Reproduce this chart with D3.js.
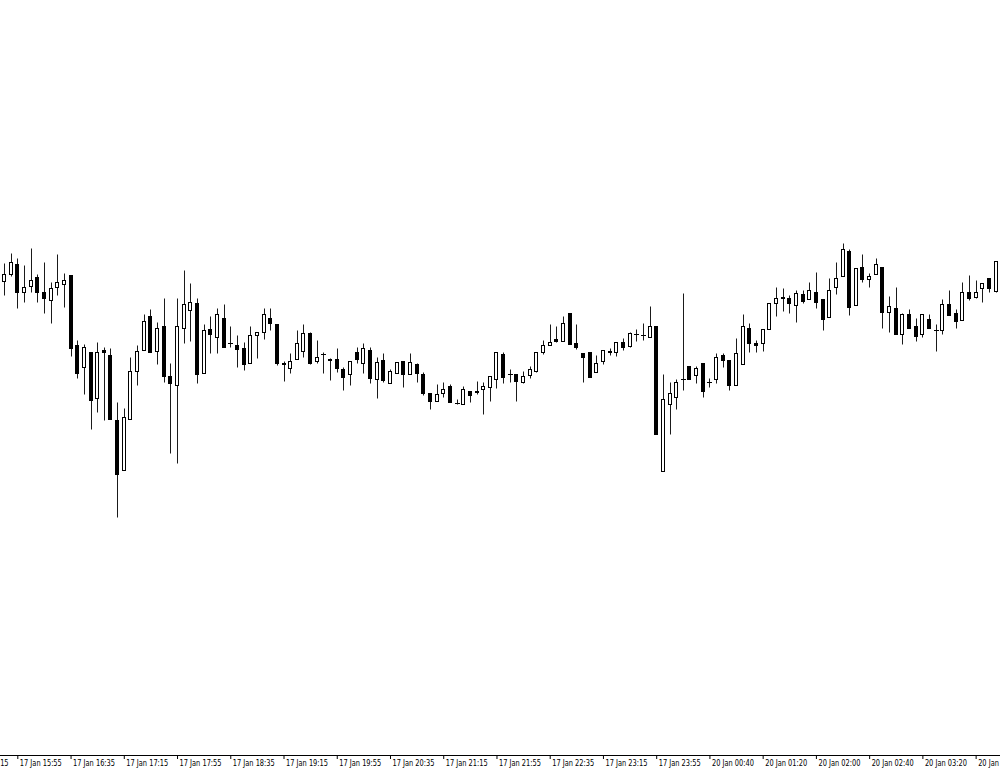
<!DOCTYPE html>
<html>
<head>
<meta charset="utf-8">
<script src="https://cdn.jsdelivr.net/npm/d3@7"></script>
<style>
  body { margin: 0; background: #fff; }
  #chart text { font-family: "DejaVu Sans", Verdana, sans-serif; font-size: 8px; fill: #000; }
</style>
</head>
<body>
<div id="chart"></div>
<script>
// M5 bars, 17 Jan 15:45 -> 20 Jan 04:15
var open = [
  1.35719,1.35726,1.35736,1.35708,1.35714,1.35723,1.35708,1.35700,1.35713,1.35716,
  1.35725,1.35655,1.35633,1.35648,1.35602,1.35650,1.35645,1.35580,1.35530,1.35581,
  1.35629,1.35650,1.35684,1.35649,1.35674,1.35624,1.35615,1.35672,1.35690,1.35697,
  1.35627,1.35671,1.35663,1.35682,1.35657,1.35655,1.35652,1.35637,1.35665,1.35668,
  1.35682,1.35676,1.35637,1.35632,1.35641,1.35649,1.35667,1.35639,1.35646,1.35641,
  1.35641,1.35631,1.35626,1.35648,1.35637,1.35650,1.35621,1.35640,1.35617,1.35627,
  1.35639,1.35626,1.35636,1.35626,1.35607,1.35599,1.35607,1.35614,1.35597,1.35596,
  1.35609,1.35608,1.35611,1.35613,1.35621,1.35646,1.35626,1.35626,1.35618,1.35625,
  1.35629,1.35648,1.35655,1.35661,1.35659,1.35687,1.35657,1.35647,1.35648,1.35628,
  1.35639,1.35648,1.35648,1.35658,1.35654,1.35666,1.35665,1.35663,1.35674,1.35529,
  1.35596,1.35603,1.35621,1.35634,1.35625,1.35637,1.35618,1.35621,1.35645,1.35640,
  1.35615,1.35636,1.35672,1.35657,1.35657,1.35671,1.35697,1.35702,1.35702,1.35695,
  1.35706,1.35701,1.35708,1.35701,1.35683,1.35713,1.35724,1.35749,1.35695,1.35733,
  1.35721,1.35726,1.35733,1.35688,1.35692,1.35666,1.35686,1.35674,1.35666,1.35681,
  1.35670,1.35670,1.35696,1.35687,1.35680,1.35708,1.35703,1.35712,1.35722,1.35709
];
var high = [
  1.35737,1.35747,1.35742,1.35735,1.35752,1.35726,1.35738,1.35718,1.35746,1.35727,
  1.35725,1.35660,1.35656,1.35648,1.35658,1.35653,1.35652,1.35598,1.35592,1.35643,
  1.35655,1.35686,1.35691,1.35678,1.35702,1.35637,1.35702,1.35730,1.35717,1.35702,
  1.35676,1.35684,1.35692,1.35696,1.35674,1.35665,1.35658,1.35674,1.35668,1.35692,
  1.35692,1.35676,1.35639,1.35647,1.35670,1.35676,1.35668,1.35660,1.35648,1.35642,
  1.35652,1.35633,1.35639,1.35653,1.35657,1.35653,1.35643,1.35647,1.35631,1.35638,
  1.35639,1.35647,1.35637,1.35628,1.35607,1.35616,1.35618,1.35616,1.35601,1.35614,
  1.35609,1.35619,1.35618,1.35624,1.35648,1.35648,1.35631,1.35626,1.35629,1.35634,
  1.35648,1.35660,1.35676,1.35674,1.35684,1.35687,1.35676,1.35647,1.35648,1.35645,
  1.35650,1.35652,1.35658,1.35662,1.35668,1.35671,1.35677,1.35694,1.35674,1.35626,
  1.35618,1.35621,1.35707,1.35634,1.35634,1.35637,1.35622,1.35647,1.35647,1.35640,
  1.35662,1.35686,1.35677,1.35660,1.35671,1.35697,1.35713,1.35712,1.35705,1.35710,
  1.35710,1.35718,1.35728,1.35701,1.35722,1.35738,1.35757,1.35751,1.35732,1.35746,
  1.35727,1.35742,1.35733,1.35704,1.35713,1.35687,1.35691,1.35682,1.35686,1.35686,
  1.35676,1.35701,1.35710,1.35691,1.35718,1.35725,1.35720,1.35717,1.35722,1.35739
];
var low = [
  1.35705,1.35724,1.35692,1.35698,1.35708,1.35698,1.35687,1.35677,1.35705,1.35693,
  1.35644,1.35622,1.35606,1.35571,1.35588,1.35580,1.35581,1.35483,1.35530,1.35581,
  1.35615,1.35650,1.35648,1.35636,1.35618,1.35547,1.35537,1.35657,1.35659,1.35617,
  1.35627,1.35647,1.35647,1.35653,1.35653,1.35633,1.35630,1.35637,1.35642,1.35661,
  1.35670,1.35635,1.35619,1.35627,1.35641,1.35643,1.35636,1.35637,1.35627,1.35620,
  1.35628,1.35610,1.35615,1.35637,1.35627,1.35617,1.35602,1.35618,1.35617,1.35627,
  1.35613,1.35626,1.35618,1.35605,1.35591,1.35599,1.35603,1.35598,1.35596,1.35596,
  1.35598,1.35606,1.35586,1.35599,1.35612,1.35617,1.35618,1.35599,1.35617,1.35622,
  1.35628,1.35646,1.35655,1.35658,1.35659,1.35656,1.35651,1.35618,1.35623,1.35628,
  1.35636,1.35645,1.35644,1.35650,1.35653,1.35659,1.35660,1.35663,1.35566,1.35529,
  1.35566,1.35591,1.35610,1.35621,1.35617,1.35603,1.35613,1.35617,1.35633,1.35610,
  1.35615,1.35636,1.35648,1.35648,1.35649,1.35671,1.35684,1.35689,1.35687,1.35678,
  1.35697,1.35701,1.35692,1.35670,1.35683,1.35706,1.35724,1.35685,1.35695,1.35718,
  1.35713,1.35726,1.35672,1.35668,1.35666,1.35656,1.35672,1.35659,1.35663,1.35672,
  1.35649,1.35666,1.35685,1.35672,1.35680,1.35700,1.35702,1.35698,1.35708,1.35708
];
var close = [
  1.35726,1.35738,1.35708,1.35713,1.35720,1.35708,1.35702,1.35712,1.35718,1.35720,
  1.35652,1.35627,1.35653,1.35600,1.35648,1.35648,1.35581,1.35526,1.35583,1.35629,
  1.35649,1.35679,1.35648,1.35672,1.35624,1.35617,1.35674,1.35696,1.35698,1.35626,
  1.35670,1.35666,1.35686,1.35653,1.35657,1.35651,1.35636,1.35665,1.35668,1.35686,
  1.35677,1.35637,1.35636,1.35639,1.35657,1.35667,1.35637,1.35643,1.35646,1.35640,
  1.35632,1.35623,1.35639,1.35641,1.35652,1.35622,1.35638,1.35620,1.35629,1.35638,
  1.35626,1.35638,1.35627,1.35607,1.35599,1.35606,1.35611,1.35598,1.35597,1.35611,
  1.35605,1.35609,1.35614,1.35624,1.35648,1.35623,1.35626,1.35619,1.35624,1.35631,
  1.35648,1.35655,1.35658,1.35659,1.35677,1.35656,1.35653,1.35643,1.35623,1.35637,
  1.35650,1.35649,1.35658,1.35653,1.35667,1.35666,1.35665,1.35674,1.35566,1.35601,
  1.35607,1.35618,1.35621,1.35621,1.35632,1.35609,1.35618,1.35643,1.35640,1.35615,
  1.35647,1.35674,1.35657,1.35655,1.35671,1.35697,1.35702,1.35703,1.35697,1.35707,
  1.35699,1.35710,1.35698,1.35681,1.35710,1.35722,1.35751,1.35693,1.35732,1.35721,
  1.35724,1.35736,1.35688,1.35694,1.35666,1.35686,1.35672,1.35664,1.35686,1.35672,
  1.35670,1.35696,1.35685,1.35679,1.35708,1.35702,1.35708,1.35717,1.35712,1.35739
];

// time axis labels, one every 8 bars; the first one sits before bar 0
var tickLabels = [
  "17 Jan 15:15","17 Jan 15:55","17 Jan 16:35","17 Jan 17:15","17 Jan 17:55",
  "17 Jan 18:35","17 Jan 19:15","17 Jan 19:55","17 Jan 20:35","17 Jan 21:15",
  "17 Jan 21:55","17 Jan 22:35","17 Jan 23:15","17 Jan 23:55","20 Jan 00:40",
  "20 Jan 01:20","20 Jan 02:00","20 Jan 02:40","20 Jan 03:20","20 Jan 04:00"
];
var firstTickBar = -6, barsPerTick = 8;

var width = 1000, height = 771, axisY = 755;

var bars = open.map(function(o, i){
    return {i: i, o: o, h: high[i], l: low[i], c: close[i]};
});

var svg = d3.select("#chart")
    .append("svg")
    .attr("width", width)
    .attr("height", height);

var x = d3.scaleLinear()
    .domain([0, bars.length - 1])
    .range([4, 4 + 6.655 * (bars.length - 1)]);

var y = d3.scaleLinear()
    .domain([1.3523, 1.3600])
    .range([770, 0]);

var px = function(v){ return Math.round(v) + 0.5; };

var candles = svg.append("g").attr("class", "candles")
    .selectAll("g")
    .data(bars)
    .enter().append("g");

// wicks
candles.append("line")
    .attr("x1", function(d){ return px(x(d.i)); })
    .attr("x2", function(d){ return px(x(d.i)); })
    .attr("y1", function(d){ return px(y(d.h)); })
    .attr("y2", function(d){ return px(y(d.l)); })
    .style("stroke", "#1a1a1a")
    .style("stroke-width", 1);

// bodies
candles.filter(function(d){ return Math.abs(d.o - d.c) > 0.000005; })
    .append("rect")
    .attr("x", function(d){ return Math.round(x(d.i)) - 1.5; })
    .attr("y", function(d){ return px(y(Math.max(d.o, d.c))); })
    .attr("width", 3)
    .attr("height", function(d){
        return Math.max(1, Math.round(y(Math.min(d.o, d.c))) - Math.round(y(Math.max(d.o, d.c))));
    })
    .style("fill", function(d){ return d.c > d.o ? "#fff" : "#000"; })
    .style("stroke", "#000")
    .style("stroke-width", 1);

// doji: open == close
candles.filter(function(d){ return Math.abs(d.o - d.c) <= 0.000005; })
    .append("line")
    .attr("x1", function(d){ return Math.round(x(d.i)) - 2; })
    .attr("x2", function(d){ return Math.round(x(d.i)) + 3; })
    .attr("y1", function(d){ return px(y(d.o)); })
    .attr("y2", function(d){ return px(y(d.o)); })
    .style("stroke", "#000")
    .style("stroke-width", 1);

// time axis
var tickBars = tickLabels.map(function(t, k){ return firstTickBar + k * barsPerTick; });

var axis = svg.append("g")
    .attr("transform", "translate(0," + axisY + ")")
    .call(d3.axisBottom(x)
        .tickValues(tickBars)
        .tickFormat(function(d, k){ return tickLabels[k]; })
        .tickSize(4)
        .tickSizeOuter(0));

axis.select(".domain").remove();
axis.append("line")
    .attr("x1", 0).attr("x2", width)
    .attr("y1", 0.5).attr("y2", 0.5)
    .style("stroke", "#000");
axis.selectAll(".tick line").style("stroke", "#000");
axis.selectAll(".tick text")
    .attr("text-anchor", "start")
    .attr("x", 2)
    .attr("y", 5)
    .attr("textLength", 42)
    .attr("lengthAdjust", "spacingAndGlyphs")
    .style("font-family", "'DejaVu Sans', Verdana, sans-serif")
    .style("font-size", "8px")
    .style("fill", "#000");
</script>
</body>
</html>
